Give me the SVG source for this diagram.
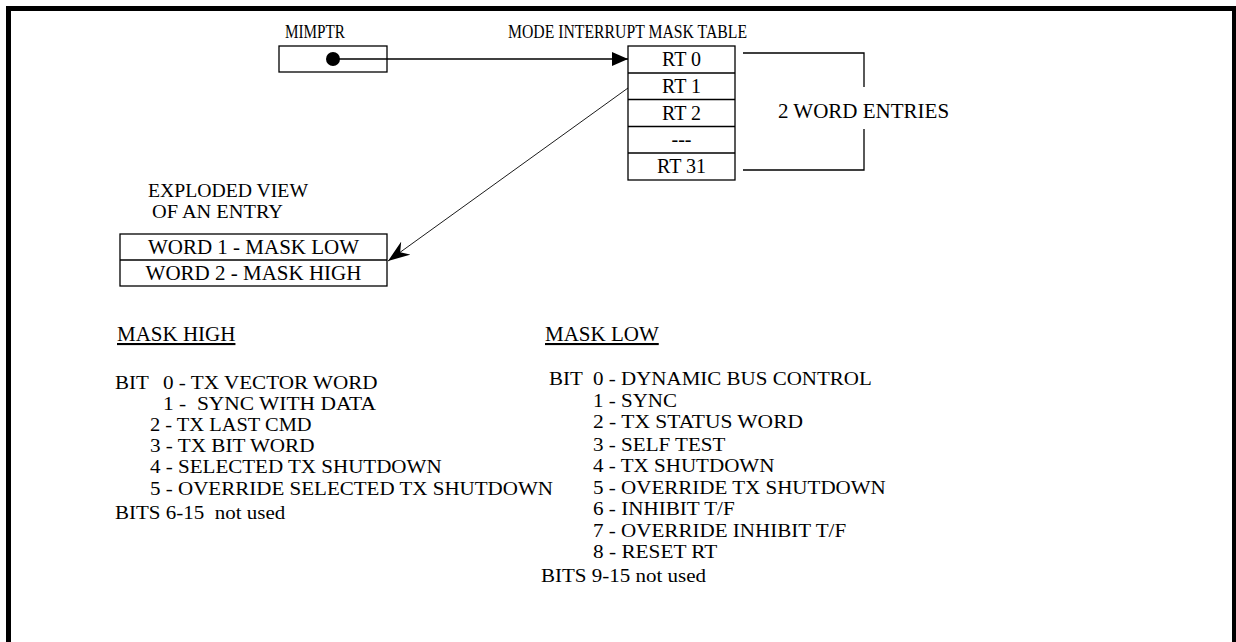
<svg xmlns="http://www.w3.org/2000/svg" width="1236" height="642" viewBox="0 0 1236 642">
<style>
text{font-family:"Liberation Serif","Times New Roman",serif;fill:#000}
.s18{font-size:18px}
.s20{font-size:20px}
.s21{font-size:21px}
.l{font-size:18.5px}
.box{fill:#fff;stroke:#000;stroke-width:1.3}
.ln{fill:none;stroke:#000;stroke-width:1.3}
.thin{fill:none;stroke:#000;stroke-width:0.9}
</style>
<defs>
<marker id="tri" viewBox="0 0 16 14" refX="16" refY="7" markerWidth="16" markerHeight="14" markerUnits="userSpaceOnUse" orient="auto">
<path d="M0,0 L16,7 L0,14 Z" fill="#000"/>
</marker>
<marker id="barb" viewBox="0 0 22 16" refX="22" refY="8" markerWidth="22" markerHeight="16" markerUnits="userSpaceOnUse" orient="auto">
<path d="M0,0 L22,8 L0,16 L7,8 Z" fill="#000"/>
</marker>
</defs>
<rect x="8.5" y="8.5" width="1226" height="650" fill="#fff" stroke="#000" stroke-width="5"/>

<g id="mimptr">
<text class="s18" x="285" y="38" textLength="60" lengthAdjust="spacingAndGlyphs">MIMPTR</text>
<rect class="box" x="279" y="46" width="108" height="26"/>
<circle cx="333" cy="59" r="7" fill="#000"/>
</g>

<g id="mask-table">
<text class="s18" x="508" y="38" textLength="239" lengthAdjust="spacingAndGlyphs">MODE INTERRUPT MASK TABLE</text>
<rect class="box" x="628" y="46" width="107" height="134"/>
<line class="ln" x1="628" y1="73" x2="735" y2="73"/>
<line class="ln" x1="628" y1="99.5" x2="735" y2="99.5"/>
<line class="ln" x1="628" y1="126.5" x2="735" y2="126.5"/>
<line class="ln" x1="628" y1="153" x2="735" y2="153"/>
<text class="s20" x="681.5" y="66" text-anchor="middle">RT 0</text>
<text class="s20" x="681.5" y="93" text-anchor="middle">RT 1</text>
<text class="s20" x="681.5" y="120" text-anchor="middle">RT 2</text>
<text class="s20" x="681.5" y="146" text-anchor="middle">---</text>
<text class="s20" x="681.5" y="173" text-anchor="middle">RT 31</text>
</g>

<g id="word-entries">
<polyline class="ln" points="743,53 864,53 864,87"/>
<polyline class="ln" points="864,129 864,170 743,170"/>
<text class="s21" x="778" y="118">2 WORD ENTRIES</text>
</g>

<g id="exploded-view">
<text class="l" x="148" y="197" textLength="160" lengthAdjust="spacingAndGlyphs">EXPLODED VIEW</text>
<text class="l" x="152" y="218" textLength="131" lengthAdjust="spacingAndGlyphs">OF AN ENTRY</text>
<rect class="box" x="120" y="234" width="267" height="52"/>
<line class="ln" x1="120" y1="260" x2="387" y2="260"/>
<text class="s21" x="253.5" y="254" text-anchor="middle">WORD 1 - MASK LOW</text>
<text class="s21" x="253.5" y="280" text-anchor="middle">WORD 2 - MASK HIGH</text>
</g>

<g id="connectors">
<line class="ln" x1="333" y1="59" x2="628" y2="59" marker-end="url(#tri)"/>
<line class="thin" x1="628" y1="88" x2="388" y2="261" marker-end="url(#barb)"/>
</g>

<g id="mask-high">
<text class="s21" x="117" y="341" text-decoration="underline">MASK HIGH</text>
<text class="l" x="115" y="389" textLength="33.8" lengthAdjust="spacingAndGlyphs">BIT</text>
<text class="l" x="163" y="389" textLength="214.6" lengthAdjust="spacingAndGlyphs">0 - TX VECTOR WORD</text>
<text class="l" x="163" y="410" textLength="212.9" lengthAdjust="spacingAndGlyphs" xml:space="preserve">1 -  SYNC WITH DATA</text>
<text class="l" x="150" y="431" textLength="161.6" lengthAdjust="spacingAndGlyphs">2 - TX LAST CMD</text>
<text class="l" x="150" y="452" textLength="164.5" lengthAdjust="spacingAndGlyphs">3 - TX BIT WORD</text>
<text class="l" x="150" y="473" textLength="291.6" lengthAdjust="spacingAndGlyphs">4 - SELECTED TX SHUTDOWN</text>
<text class="l" x="150" y="495" textLength="403" lengthAdjust="spacingAndGlyphs">5 - OVERRIDE SELECTED TX SHUTDOWN</text>
<text class="l" x="115" y="519" textLength="170.3" lengthAdjust="spacingAndGlyphs" xml:space="preserve">BITS 6-15  not used</text>
</g>

<g id="mask-low">
<text class="s21" x="545" y="341" text-decoration="underline">MASK LOW</text>
<text class="l" x="549" y="385" textLength="33.8" lengthAdjust="spacingAndGlyphs">BIT</text>
<text class="l" x="593" y="385" textLength="278.8" lengthAdjust="spacingAndGlyphs">0 - DYNAMIC BUS CONTROL</text>
<text class="l" x="593" y="407" textLength="84" lengthAdjust="spacingAndGlyphs">1 - SYNC</text>
<text class="l" x="593" y="428" textLength="210" lengthAdjust="spacingAndGlyphs">2 - TX STATUS WORD</text>
<text class="l" x="593" y="451" textLength="132.4" lengthAdjust="spacingAndGlyphs">3 - SELF TEST</text>
<text class="l" x="593" y="472" textLength="181.4" lengthAdjust="spacingAndGlyphs">4 - TX SHUTDOWN</text>
<text class="l" x="593" y="494" textLength="292.8" lengthAdjust="spacingAndGlyphs">5 - OVERRIDE TX SHUTDOWN</text>
<text class="l" x="593" y="515" textLength="141.7" lengthAdjust="spacingAndGlyphs">6 - INHIBIT T/F</text>
<text class="l" x="593" y="537" textLength="253.1" lengthAdjust="spacingAndGlyphs">7 - OVERRIDE INHIBIT T/F</text>
<text class="l" x="593" y="558" textLength="124.3" lengthAdjust="spacingAndGlyphs">8 - RESET RT</text>
<text class="l" x="541" y="582" textLength="165.1" lengthAdjust="spacingAndGlyphs">BITS 9-15 not used</text>
</g>
</svg>
